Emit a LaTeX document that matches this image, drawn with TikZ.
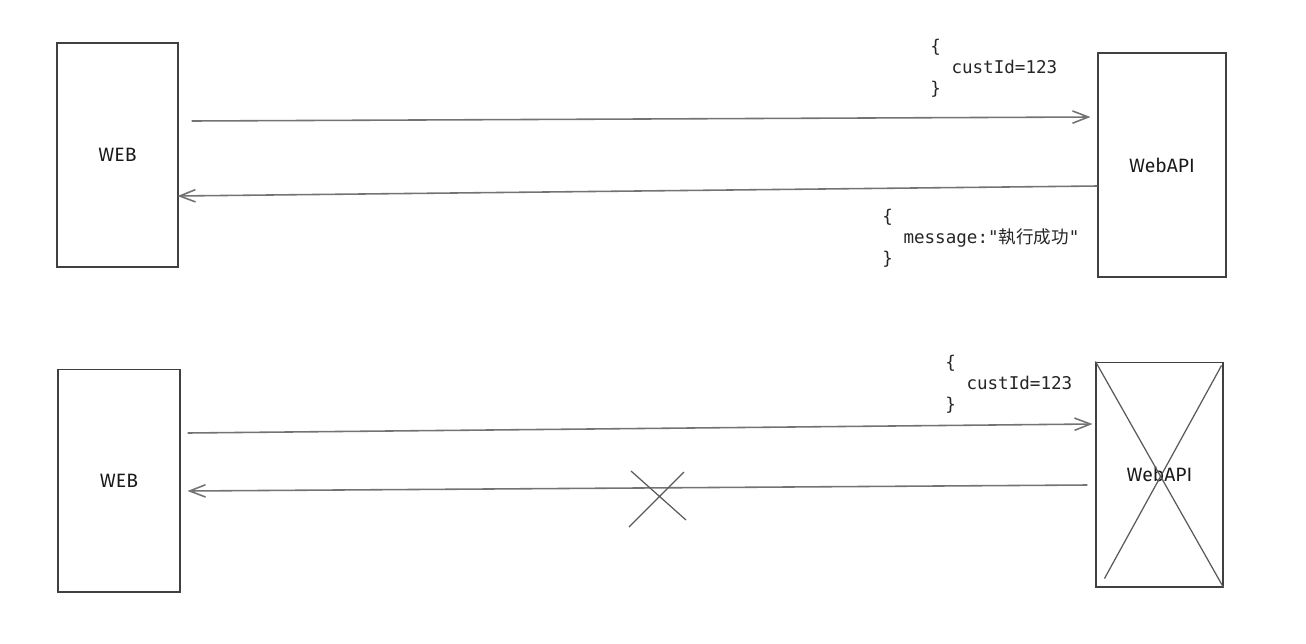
\documentclass[tikz,border=0pt]{standalone}
\usepackage{fontspec}
\usepackage{tikz}
\usetikzlibrary{arrows.meta}
\setmainfont{Fira Sans}
\newfontfamily\codefont{DejaVu Sans Mono}
\newfontfamily\cjk{Noto Sans CJK TC}

\begin{document}
\begin{tikzpicture}[
    x=0.02cm, y=-0.02cm,
    >={Straight Barb[length=9pt, width=7pt]},
    box/.style={draw=black!75, line width=0.6pt, rectangle, inner sep=0pt, text=black!90, font=\fontsize{11}{13}\selectfont},
    msg/.style={->, draw=black!55, line width=0.9pt},
    payload/.style={anchor=west, inner sep=0pt, align=left, font=\codefont\fontsize{10}{11.9}\selectfont, text=black!85},
    cut/.style={draw=black!65, line width=0.7pt}
]
    \useasboundingbox (0,0) rectangle (1306,643);

    % --- CASE 1: CALL SUCCEEDS (Top) ---
    \node[box, minimum width=2.42cm, minimum height=4.48cm] (web1) at (117.5, 155) {WEB};
    \node[box, minimum width=2.56cm, minimum height=4.48cm] (api1) at (1162, 165) {WebAPI};

    % request / response
    \draw[msg] ([shift={(13,-34)}]web1.east) -- ([shift={(-7,-48)}]api1.west);
    \draw[msg] ([shift={(0,21)}]api1.west) -- ([shift={(-1,41)}]web1.east);

    % payloads
    \node[payload] (req1) at (930, 68.5) {\{\\\phantom{xx}custId=123\\\}};
    \node[payload] (res1) at (882, 238) {\{\\\phantom{xx}message:"{\cjk 執行成功}"\\\}};

    % --- CASE 2: WEBAPI DOWN (Bottom) ---
    \node[box, minimum width=2.44cm, minimum height=4.46cm] (web2) at (119, 480.5) {WEB};
    \node[box, minimum width=2.54cm, minimum height=4.5cm] (api2) at (1159.5, 474.5) {WebAPI};

    % crossed-out service
    \draw[cut] (api2.north west) -- (api2.south east);
    \draw[cut] ([shift={(-2,4)}]api2.north east) -- ([shift={(9,-9)}]api2.south west);

    % request / lost response
    \draw[msg] ([shift={(7,-47.5)}]web2.east) -- ([shift={(-3,-50.5)}]api2.west);
    \draw[msg] ([shift={(-8,10.5)}]api2.west) -- ([shift={(7,10.5)}]web2.east);
    \draw[cut] (631,471) -- (686,520) (629,527) -- (684,472); % no reply

    \node[payload] (req2) at (945, 384) {\{\\\phantom{xx}custId=123\\\}};

\end{tikzpicture}
\end{document}
